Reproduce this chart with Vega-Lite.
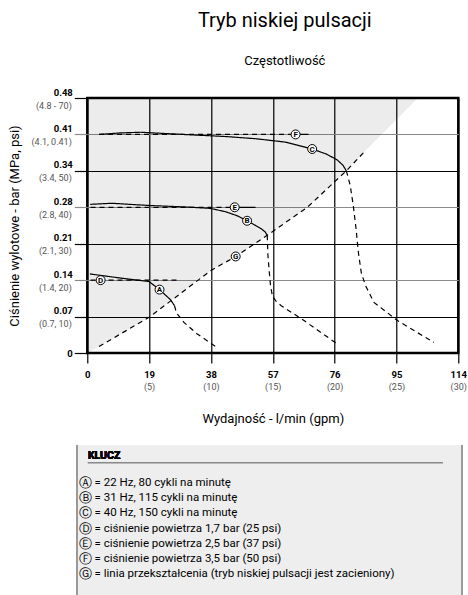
{
  "$schema": "https://vega.github.io/schema/vega-lite/v6.json",
  "padding": {"left": 6, "top": 9, "right": 0, "bottom": 0},
  "center": true,
  "spacing": 17,
  "config": {
    "font": "Roboto, Liberation Sans, sans-serif",
    "view": {"stroke": null}
  },
  "vconcat": [
    {
      "width": 371,
      "height": 255,
      "view": {"stroke": "#000", "strokeWidth": 2.5},
      "title": {
        "text": "Tryb niskiej pulsacji",
        "subtitle": "Częstotliwość",
        "fontSize": 20,
        "fontWeight": "normal",
        "color": "#000",
        "subtitleFontSize": 13,
        "subtitleColor": "#000",
        "subtitlePadding": 24,
        "offset": 19,
        "dx": 12
      },
      "resolve": {"axis": {"x": "independent", "y": "independent"}},
      "layer": [
        {
          "data": {"values": [
            {"x": 0, "y": 0}, {"x": 3.6, "y": 1.8}, {"x": 19, "y": 9.8},
            {"x": 37.9, "y": 22.6}, {"x": 45.6, "y": 26.5}, {"x": 55.3, "y": 32.3},
            {"x": 67.6, "y": 40}, {"x": 79.6, "y": 50}, {"x": 85, "y": 55.1},
            {"x": 101.6, "y": 70}
          ]},
          "mark": {"type": "area", "color": "#000", "fillOpacity": 0.075},
          "encoding": {
            "x": {
              "field": "x", "type": "quantitative",
              "scale": {"domain": [0, 114], "nice": false, "zero": false},
              "axis": {
                "orient": "bottom",
                "values": [0, 19, 38, 57, 76, 95, 114],
                "title": null, "domain": false,
                "grid": true, "gridColor": "#000", "gridWidth": 1.2, "gridOpacity": 1,
                "tickSize": 10, "tickColor": "#000", "tickWidth": 1.2,
                "labelPadding": 6, "labelFontSize": 9.5, "labelFontWeight": "bold",
                "labelColor": "#000", "labelFlush": false
              }
            },
            "y": {
              "field": "y", "type": "quantitative",
              "scale": {"domain": [0, 70], "nice": false},
              "axis": {
                "orient": "left",
                "values": [0, 10, 20, 30, 40, 50, 60, 70],
                "title": null, "domain": false,
                "grid": true, "gridWidth": 1.2, "gridOpacity": 1,
                "gridColor": {"condition": {"test": "datum.value == 20 || datum.value == 40 || datum.value == 60", "value": "#8a8a8a"}, "value": "#000"},
                "tickColor": {"condition": {"test": "datum.value == 20 || datum.value == 40 || datum.value == 60", "value": "#8a8a8a"}, "value": "#000"},
                "tickSize": 13, "tickWidth": 1.2,
                "labelPadding": 2, "labelFontSize": 9.5, "labelFontWeight": "bold",
                "labelColor": "#000", "labelFlush": false,
                "labelOffset": {"condition": {"test": "datum.value == 0", "value": 0}, "value": -6},
                "labelExpr": "['0','0.07','0.14','0.21','0.28','0.34','0.41','0.48'][datum.value / 10]"
              }
            },
            "y2": {"datum": 70}
          }
        },
        {
          "data": {"values": [
            {"s": "A1", "part": "solid", "x": 0.8, "y": 21.7},
            {"s": "A1", "part": "solid", "x": 10, "y": 20.6},
            {"s": "A1", "part": "solid", "x": 19, "y": 19.6},
            {"s": "A1", "part": "solid", "x": 22.2, "y": 17.4},
            {"s": "A1", "part": "solid", "x": 25.6, "y": 14.6},
            {"s": "A1", "part": "solid", "x": 26.8, "y": 13.0},
            {"s": "A2", "part": "dashed", "x": 26.8, "y": 13.0},
            {"s": "A2", "part": "dashed", "x": 27.4, "y": 11.0},
            {"s": "A2", "part": "dashed", "x": 29.7, "y": 8.4},
            {"s": "A2", "part": "dashed", "x": 33.8, "y": 5.2},
            {"s": "A2", "part": "dashed", "x": 39.4, "y": 1.8},
            {"s": "B1", "part": "solid", "x": 0.9, "y": 40.8},
            {"s": "B1", "part": "solid", "x": 7.6, "y": 41.1},
            {"s": "B1", "part": "solid", "x": 18.8, "y": 40.5},
            {"s": "B1", "part": "solid", "x": 30, "y": 40.1},
            {"s": "B1", "part": "solid", "x": 37.8, "y": 39.7},
            {"s": "B1", "part": "solid", "x": 42.4, "y": 38.8},
            {"s": "B1", "part": "solid", "x": 46, "y": 37.7},
            {"s": "B1", "part": "solid", "x": 49.1, "y": 36.3},
            {"s": "B1", "part": "solid", "x": 51.5, "y": 35.1},
            {"s": "B1", "part": "solid", "x": 53.3, "y": 34.2},
            {"s": "B1", "part": "solid", "x": 54.6, "y": 33.3},
            {"s": "B1", "part": "solid", "x": 55.3, "y": 32.3},
            {"s": "B2", "part": "dashed", "x": 55.3, "y": 32.3},
            {"s": "B2", "part": "dashed", "x": 55.5, "y": 27.0},
            {"s": "B2", "part": "dashed", "x": 55.9, "y": 22.5},
            {"s": "B2", "part": "dashed", "x": 56.3, "y": 18.5},
            {"s": "B2", "part": "dashed", "x": 56.9, "y": 15.6},
            {"s": "B2", "part": "dashed", "x": 58.2, "y": 14.0},
            {"s": "B2", "part": "dashed", "x": 59.6, "y": 13.0},
            {"s": "B2", "part": "dashed", "x": 66.6, "y": 8.9},
            {"s": "B2", "part": "dashed", "x": 76.8, "y": 2.5},
            {"s": "C1", "part": "solid", "x": 3.6, "y": 60},
            {"s": "C1", "part": "solid", "x": 10, "y": 60.4},
            {"s": "C1", "part": "solid", "x": 16.4, "y": 60.6},
            {"s": "C1", "part": "solid", "x": 25, "y": 60.2},
            {"s": "C1", "part": "solid", "x": 33.8, "y": 59.8},
            {"s": "C1", "part": "solid", "x": 43, "y": 59.4},
            {"s": "C1", "part": "solid", "x": 52, "y": 58.8},
            {"s": "C1", "part": "solid", "x": 60.8, "y": 57.9},
            {"s": "C1", "part": "solid", "x": 69.1, "y": 56.0},
            {"s": "C1", "part": "solid", "x": 73.5, "y": 54.6},
            {"s": "C1", "part": "solid", "x": 76.8, "y": 53.0},
            {"s": "C1", "part": "solid", "x": 78.6, "y": 51.5},
            {"s": "C1", "part": "solid", "x": 79.6, "y": 50.0},
            {"s": "C2", "part": "dashed", "x": 79.6, "y": 50.0},
            {"s": "C2", "part": "dashed", "x": 80.8, "y": 46.0},
            {"s": "C2", "part": "dashed", "x": 81.8, "y": 40},
            {"s": "C2", "part": "dashed", "x": 82.6, "y": 34},
            {"s": "C2", "part": "dashed", "x": 83.3, "y": 27.6},
            {"s": "C2", "part": "dashed", "x": 84.2, "y": 22},
            {"s": "C2", "part": "dashed", "x": 85.5, "y": 18.5},
            {"s": "C2", "part": "dashed", "x": 88.1, "y": 13.9},
            {"s": "C2", "part": "dashed", "x": 95.3, "y": 8.9},
            {"s": "C2", "part": "dashed", "x": 106.5, "y": 2.9},
            {"s": "D", "part": "dashed", "x": 1, "y": 20},
            {"s": "D", "part": "dashed", "x": 28.6, "y": 20},
            {"s": "E1", "part": "dashed", "x": 1, "y": 40},
            {"s": "E1", "part": "dashed", "x": 45.3, "y": 40},
            {"s": "E2", "part": "solid", "x": 45.3, "y": 40},
            {"s": "E2", "part": "solid", "x": 51.7, "y": 40},
            {"s": "F1", "part": "dashed", "x": 3.6, "y": 60},
            {"s": "F1", "part": "dashed", "x": 64, "y": 60},
            {"s": "F2", "part": "solid", "x": 64, "y": 60},
            {"s": "F2", "part": "solid", "x": 68, "y": 60},
            {"s": "G", "part": "dashed", "x": 3.6, "y": 1.8},
            {"s": "G", "part": "dashed", "x": 19, "y": 9.8},
            {"s": "G", "part": "dashed", "x": 37.9, "y": 22.6},
            {"s": "G", "part": "dashed", "x": 45.6, "y": 26.5},
            {"s": "G", "part": "dashed", "x": 55.3, "y": 32.3},
            {"s": "G", "part": "dashed", "x": 67.6, "y": 40},
            {"s": "G", "part": "dashed", "x": 79.6, "y": 50.0},
            {"s": "G", "part": "dashed", "x": 85, "y": 55.1}
          ]},
          "mark": {"type": "line", "color": "#000", "strokeWidth": 1.2},
          "encoding": {
            "x": {
              "field": "x", "type": "quantitative",
              "axis": {
                "orient": "bottom",
                "values": [0, 19, 38, 57, 76, 95, 114],
                "title": "Wydajność - l/min (gpm)",
                "titleFontSize": 13, "titleFontWeight": "normal", "titleColor": "#000",
                "titlePadding": 21,
                "domain": false, "grid": false,
                "tickSize": 10, "tickOpacity": 0,
                "labelPadding": 19, "labelFontSize": 9, "labelColor": "#555",
                "labelFlush": false,
                "labelExpr": "['','(5)','(10)','(15)','(20)','(25)','(30)'][datum.value / 19]"
              }
            },
            "y": {
              "field": "y", "type": "quantitative",
              "axis": {
                "orient": "left",
                "values": [10, 20, 30, 40, 50, 60, 70],
                "title": "Ciśnienie wylotowe - bar (MPa, psi)",
                "titleFontSize": 13, "titleFontWeight": "normal", "titleColor": "#000",
                "titlePadding": 10,
                "domain": false, "grid": false,
                "tickSize": 13, "tickOpacity": 0,
                "labelPadding": 3, "labelFontSize": 9, "labelColor": "#555",
                "labelFlush": false, "labelOffset": 7,
                "labelExpr": "['','(0.7, 10)','(1.4, 20)','(2.1, 30)','(2.8, 40)','(3.4, 50)','(4.1, 0.41)','(4.8 - 70)'][datum.value / 10]"
              }
            },
            "detail": {"field": "s", "type": "nominal"},
            "strokeDash": {
              "field": "part", "type": "nominal",
              "scale": {"domain": ["solid", "dashed"], "range": [[1, 0], [5, 4]]},
              "legend": null
            }
          }
        },
        {
          "data": {"name": "marks", "values": [
            {"key": "A", "x": 22.2, "y": 17.4},
            {"key": "B", "x": 49.1, "y": 36.3},
            {"key": "C", "x": 69.1, "y": 56.0},
            {"key": "D", "x": 4.1, "y": 20},
            {"key": "E", "x": 45.3, "y": 40},
            {"key": "F", "x": 64.0, "y": 60},
            {"key": "G", "x": 45.6, "y": 26.5}
          ]},
          "layer": [
            {
              "mark": {"type": "point", "shape": "circle", "filled": true, "fill": "#fff", "stroke": "#000", "strokeWidth": 1, "size": 80, "opacity": 1},
              "encoding": {
                "x": {"field": "x", "type": "quantitative", "axis": null},
                "y": {"field": "y", "type": "quantitative", "axis": null}
              }
            },
            {
              "mark": {"type": "text", "fontSize": 8, "fontWeight": "bold", "color": "#000", "align": "center", "baseline": "middle", "dy": 0.5},
              "encoding": {
                "x": {"field": "x", "type": "quantitative", "axis": null},
                "y": {"field": "y", "type": "quantitative", "axis": null},
                "text": {"field": "key"}
              }
            }
          ]
        }
      ]
    },
    {
      "width": 371,
      "height": 152,
      "data": {"values": [
        {"key": "A", "sym": "Ⓐ", "text": "= 22 Hz, 80 cykli na minutę"},
        {"key": "B", "sym": "Ⓑ", "text": "= 31 Hz, 115 cykli na minutę"},
        {"key": "C", "sym": "Ⓒ", "text": "= 40 Hz, 150 cykli na minutę"},
        {"key": "D", "sym": "Ⓓ", "text": "= ciśnienie powietrza 1,7 bar (25 psi)"},
        {"key": "E", "sym": "Ⓔ", "text": "= ciśnienie powietrza 2,5 bar (37 psi)"},
        {"key": "F", "sym": "Ⓕ", "text": "= ciśnienie powietrza 3,5 bar (50 psi)"},
        {"key": "G", "sym": "Ⓖ", "text": "= linia przekształcenia (tryb niskiej pulsacji jest zacieniony)"}
      ]},
      "layer": [
        {
          "mark": {"type": "rect", "color": "#eeeeee"},
          "encoding": {
            "x": {"datum": -4.05, "type": "quantitative", "scale": {"domain": [0, 100], "nice": false, "zero": false}, "axis": null},
            "x2": {"datum": 99.75}
          }
        },
        {
          "mark": {"type": "rule", "color": "#9a9a9a", "strokeWidth": 1},
          "encoding": {"x": {"datum": -4.05, "type": "quantitative", "axis": null}}
        },
        {
          "mark": {"type": "rule", "color": "#9a9a9a", "strokeWidth": 1},
          "encoding": {"x": {"datum": 99.75, "type": "quantitative", "axis": null}}
        },
        {
          "mark": {"type": "rule", "color": "#8a8a8a", "strokeWidth": 1, "yOffset": 10},
          "encoding": {
            "x": {"datum": -1.1, "type": "quantitative", "axis": null},
            "x2": {"datum": 94.6},
            "y": {"datum": "KLUCZ", "type": "ordinal", "axis": null,
                  "scale": {"type": "point", "domain": ["KLUCZ", " ", "A", "B", "C", "D", "E", "F", "G"], "padding": 1.07, "align": 0.25}}
          }
        },
        {
          "mark": {"type": "text", "align": "left", "baseline": "middle", "fontSize": 10.5, "fontWeight": "bold", "color": "#000", "yOffset": 3},
          "encoding": {
            "x": {"datum": -1.1, "type": "quantitative", "axis": null},
            "y": {"datum": "KLUCZ", "type": "ordinal", "axis": null},
            "text": {"value": "KLUCZ"}
          }
        },
        {
          "mark": {"type": "text", "align": "left", "baseline": "middle", "fontSize": 13, "color": "#000", "font": "DejaVu Sans"},
          "encoding": {
            "x": {"datum": -3.5, "type": "quantitative", "axis": null},
            "y": {"field": "key", "type": "ordinal", "axis": null},
            "text": {"field": "sym"}
          }
        },
        {
          "mark": {"type": "text", "align": "left", "baseline": "middle", "fontSize": 11.5, "color": "#000"},
          "encoding": {
            "x": {"datum": 0.7, "type": "quantitative", "axis": null},
            "y": {"field": "key", "type": "ordinal", "axis": null},
            "text": {"field": "text"}
          }
        }
      ]
    }
  ]
}
